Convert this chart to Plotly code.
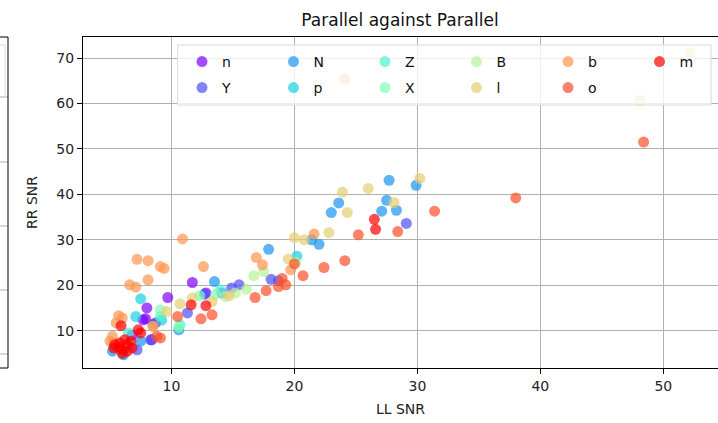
import plotly.graph_objects as go

# ---------------- data ----------------
categories = ["n", "Y", "N", "p", "Z", "X", "B", "l", "b", "o", "m"]
colors = ["rgba(127,0,255,0.7)", "rgba(77,79,252,0.7)", "rgba(26,150,242,0.7)",
          "rgba(26,206,227,0.7)", "rgba(77,243,206,0.7)", "rgba(128,255,180,0.7)",
          "rgba(179,243,150,0.7)", "rgba(230,206,116,0.7)", "rgba(255,150,79,0.7)",
          "rgba(255,79,40,0.7)", "rgba(255,0,0,0.7)"]

n_x = [11.7, 9.7, 8.0, 7.9, 8.7, 7.7, 8.4, 12.8, 6.8]
n_y = [20.6, 17.3, 15.0, 12.6, 11.7, 12.4, 8.0, 18.3, 9.0]

Y_x = [29.1, 18.1, 15.5, 14.9, 14.1, 11.3, 8.5, 8.3, 7.2, 12.7, 18.7]
Y_y = [33.6, 21.3, 20.1, 19.4, 18.3, 13.9, 11.3, 8.0, 5.8, 18.0, 21.0]

N_x = [27.7, 29.9, 23.6, 23.0, 27.5, 27.1, 28.3, 21.4, 22.0, 17.9, 13.5, 10.6, 7.5, 5.2, 6.1]
N_y = [43.1, 42.0, 38.1, 36.0, 38.7, 36.3, 36.5, 30.0, 29.0, 27.9, 20.8, 10.2, 7.7, 5.5, 4.7]

p_x = [20.2, 7.5, 7.1, 9.2]
p_y = [26.4, 17.0, 13.1, 12.3]

Z_x = [10.7, 14.0, 9.1, 6.5]
Z_y = [11.3, 19.0, 13.1, 9.5]

X_x = [9.1, 12.3, 13.6, 10.6]
X_y = [14.6, 17.7, 18.0, 10.8]

B_x = [20.1, 16.7, 17.5, 16.1, 15.2, 14.4]
B_y = [25.0, 22.1, 23.0, 19.1, 18.3, 17.5]

l_x = [30.2, 23.9, 26.0, 24.3, 28.1, 22.8, 20.0, 20.8, 19.5, 14.7, 11.7, 10.7, 13.3, 9.6, 8.5, 52.2, 48.1]
l_y = [43.5, 40.5, 41.3, 36.0, 38.2, 31.6, 30.5, 30.0, 25.8, 17.7, 17.2, 15.9, 16.4, 14.2, 10.9, 71.3, 60.7]

b_x = [24.1, 21.6, 10.9, 16.9, 17.4, 19.7, 12.6, 9.1, 9.4, 7.2, 8.1, 8.1, 6.6, 7.1, 5.7, 6.0, 5.5, 5.2, 5.0, 5.3, 8.5]
b_y = [65.4, 31.3, 30.2, 26.1, 24.5, 23.4, 24.1, 24.1, 23.7, 25.7, 25.4, 21.2, 20.1, 19.6, 13.3, 12.8, 11.7, 8.75, 7.7, 7.3, 11.0]

o_x = [31.4, 28.4, 25.2, 20.0, 22.4, 24.1, 20.7, 19.0, 18.7, 19.3, 17.7, 16.8, 13.3, 12.4, 10.5, 8.8, 9.1, 38.0, 48.4]
o_y = [36.3, 31.8, 31.1, 24.7, 23.9, 25.4, 22.1, 21.5, 19.7, 20.1, 18.8, 17.3, 13.5, 12.6, 13.1, 8.75, 8.4, 39.2, 51.5]

m_x = [26.5, 26.6, 11.6, 12.8, 5.9, 7.3, 7.5, 5.4, 5.7, 6.0, 6.4, 6.7, 6.2, 5.8, 6.4, 6.8, 5.3, 6.0]
m_y = [34.5, 32.3, 15.7, 15.5, 11.1, 10.2, 9.5, 6.9, 6.2, 5.8, 6.9, 7.7, 8.0, 7.3, 5.5, 6.2, 6.2, 5.0]

series_x = [n_x, Y_x, N_x, p_x, Z_x, X_x, B_x, l_x, b_x, o_x, m_x]
series_y = [n_y, Y_y, N_y, p_y, Z_y, X_y, B_y, l_y, b_y, o_y, m_y]
row1 = ["n", "N", "Z", "B", "b", "m"]

title_text = "Parallel against Parallel"
x_label = "LL SNR"
y_label = "RR SNR"
x_ticks = [10, 20, 30, 40, 50]
y_ticks = [10, 20, 30, 40, 50, 60, 70]

# ---------------- figure ----------------
FONT = "DejaVu Sans"
W, H = 718, 423
ML, MR, MT, MB = 83, 0, 37, 55
PW, PH = W - ML - MR, H - MT - MB

fig = go.Figure()
for cat, col, xs, ys in zip(categories, colors, series_x, series_y):
    fig.add_trace(go.Scatter(
        x=xs, y=ys, mode="markers", name=cat,
        legend="legend" if cat in row1 else "legend2",
        marker=dict(size=11, color=col, line=dict(width=0)),
    ))

def px_x(p):
    return (p - ML) / PW

def px_y(p):
    return (H - MB - p) / PH

axis_common = dict(
    showgrid=True, gridcolor="#b0b0b0", gridwidth=1,
    showline=True, linecolor="black", linewidth=1,
    ticks="outside", ticklen=5, tickwidth=1, tickcolor="black",
    zeroline=False, automargin=False,
    tickfont=dict(family=FONT, size=14, color="#222"),
)

legend_common = dict(orientation="h", x=px_x(182), xanchor="left", yanchor="middle",
                     entrywidth=46.5, bgcolor="rgba(0,0,0,0)",
                     font=dict(family=FONT, size=14, color="#111"))

fig.update_layout(
    width=W, height=H,
    margin=dict(l=ML, r=MR, t=MT, b=MB, autoexpand=False),
    paper_bgcolor="white", plot_bgcolor="white",
    title=dict(text=title_text, x=px_x(400), xref="paper", xanchor="center",
               y=1 - 20 / H, yanchor="middle",
               font=dict(family=FONT, size=17, color="#111")),
    xaxis=dict(range=[2.805, 54.45], tickvals=x_ticks, mirror=True,
               title=dict(text=x_label, font=dict(family=FONT, size=14, color="#222"), standoff=11),
               **axis_common),
    yaxis=dict(range=[1.79, 74.62], tickvals=y_ticks,
               title=dict(text=y_label, font=dict(family=FONT, size=14, color="#222"), standoff=15),
               **axis_common),
    showlegend=True,
    legend=dict(y=px_y(62), **legend_common),
    legend2=dict(y=px_y(88), **legend_common),
    shapes=[
        # legend frame
        dict(type="rect", xref="paper", yref="paper", layer="above",
             x0=px_x(177.7), x1=px_x(711), y0=px_y(105), y1=px_y(45),
             fillcolor="rgba(255,255,255,0.8)", line=dict(color="#d9d9d9", width=1)),
        # partial neighbouring panel on the left
        dict(type="rect", xref="paper", yref="paper", layer="above",
             x0=px_x(-20), x1=px_x(8), y0=px_y(368), y1=px_y(37),
             fillcolor="rgba(0,0,0,0)", line=dict(color="black", width=1)),
    ] + [
        dict(type="line", xref="paper", yref="paper", layer="below",
             x0=px_x(0), x1=px_x(8), y0=px_y(py), y1=px_y(py),
             line=dict(color="#b0b0b0", width=1))
        for py in [97, 162, 226, 290, 354]
    ] + [
        dict(type="line", xref="paper", yref="paper", layer="above",
             x0=px_x(0), x1=px_x(5), y0=px_y(45), y1=px_y(45),
             line=dict(color="#d9d9d9", width=1)),
        dict(type="line", xref="paper", yref="paper", layer="above",
             x0=px_x(5), x1=px_x(5), y0=px_y(45), y1=px_y(97),
             line=dict(color="#d9d9d9", width=1)),
    ],
)

fig.write_html("out.html", config={"displayModeBar": False},
               post_script="document.body.style.margin='0';document.body.style.overflow='hidden';")
